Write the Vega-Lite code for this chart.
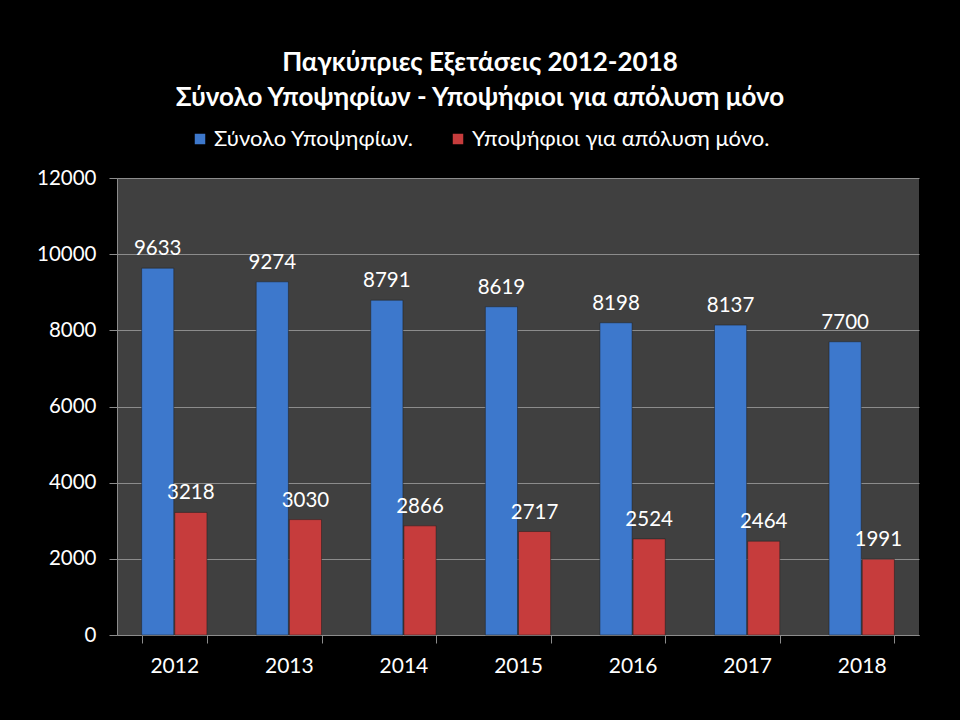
{
  "$schema": "https://vega.github.io/schema/vega-lite/v6.json",
  "width": 802,
  "height": 457,
  "autosize": {"type": "none"},
  "padding": {"left": 117, "top": 178, "right": 41, "bottom": 85},
  "background": "#000000",
  "title": {
    "text": ["Παγκύπριες Εξετάσεις 2012-2018", "Σύνολο Υποψηφίων - Υποψήφιοι για απόλυση μόνο"],
    "color": "#ffffff",
    "font": "Lato",
    "fontSize": 26,
    "fontWeight": "bold",
    "lineHeight": 35,
    "anchor": "middle",
    "dx": -38,
    "offset": 17
  },
  "data": {
    "values": [
      {"year": "2012", "series": "Σύνολο Υποψηφίων.", "value": 9633},
      {"year": "2013", "series": "Σύνολο Υποψηφίων.", "value": 9274},
      {"year": "2014", "series": "Σύνολο Υποψηφίων.", "value": 8791},
      {"year": "2015", "series": "Σύνολο Υποψηφίων.", "value": 8619},
      {"year": "2016", "series": "Σύνολο Υποψηφίων.", "value": 8198},
      {"year": "2017", "series": "Σύνολο Υποψηφίων.", "value": 8137},
      {"year": "2018", "series": "Σύνολο Υποψηφίων.", "value": 7700},
      {"year": "2012", "series": "Υποψήφιοι για απόλυση μόνο.", "value": 3218},
      {"year": "2013", "series": "Υποψήφιοι για απόλυση μόνο.", "value": 3030},
      {"year": "2014", "series": "Υποψήφιοι για απόλυση μόνο.", "value": 2866},
      {"year": "2015", "series": "Υποψήφιοι για απόλυση μόνο.", "value": 2717},
      {"year": "2016", "series": "Υποψήφιοι για απόλυση μόνο.", "value": 2524},
      {"year": "2017", "series": "Υποψήφιοι για απόλυση μόνο.", "value": 2464},
      {"year": "2018", "series": "Υποψήφιοι για απόλυση μόνο.", "value": 1991}
    ]
  },
  "encoding": {
    "x": {
      "field": "year",
      "type": "ordinal",
      "scale": {"paddingInner": 0.43, "paddingOuter": 0.215},
      "axis": {
        "title": null,
        "labelAngle": 0,
        "labelColor": "#ffffff",
        "labelFont": "Lato",
        "labelFontSize": 21,
        "labelPadding": 12,
        "tickBand": "extent",
        "ticks": true,
        "tickSize": 8,
        "tickColor": "#8c8c8c",
        "domainColor": "#8c8c8c",
        "grid": false
      }
    },
    "xOffset": {
      "field": "series",
      "sort": ["Σύνολο Υποψηφίων.", "Υποψήφιοι για απόλυση μόνο."],
      "scale": {"paddingInner": 0.03}
    },
    "y": {
      "field": "value",
      "type": "quantitative",
      "scale": {"domain": [0, 12000], "nice": false},
      "axis": {
        "title": null,
        "values": [0, 2000, 4000, 6000, 8000, 10000, 12000],
        "format": "d",
        "labelColor": "#ffffff",
        "labelFont": "Lato",
        "labelFontSize": 20.5,
        "labelPadding": 13,
        "tickSize": 8,
        "tickColor": "#8c8c8c",
        "domainColor": "#8c8c8c",
        "gridColor": "#8c8c8c",
        "gridWidth": 1
      }
    }
  },
  "layer": [
    {
      "mark": {"type": "bar", "stroke": "#1f1f1f", "strokeWidth": 0.5},
      "encoding": {
        "color": {
          "field": "series",
          "type": "nominal",
          "sort": ["Σύνολο Υποψηφίων.", "Υποψήφιοι για απόλυση μόνο."],
          "scale": {"range": ["#3d78cc", "#c63c3c"]},
          "legend": {
            "title": null,
            "orient": "none",
            "legendX": 72,
            "legendY": -50,
            "direction": "horizontal",
            "symbolType": "square",
            "symbolSize": 110,
            "symbolStrokeWidth": 0,
            "labelColor": "#ffffff",
            "labelFont": "Lato",
            "labelFontSize": 22,
            "labelOffset": 3,
            "columnPadding": 33,
            "labelLimit": 400,
            "padding": 0
          }
        }
      }
    },
    {
      "mark": {"type": "text", "baseline": "bottom", "dy": -9, "color": "#ffffff", "font": "Lato", "fontSize": 20.5},
      "encoding": {
        "text": {"field": "value", "type": "quantitative", "format": "d"}
      }
    }
  ],
  "config": {
    "view": {"fill": "#404040", "stroke": null}
  }
}
